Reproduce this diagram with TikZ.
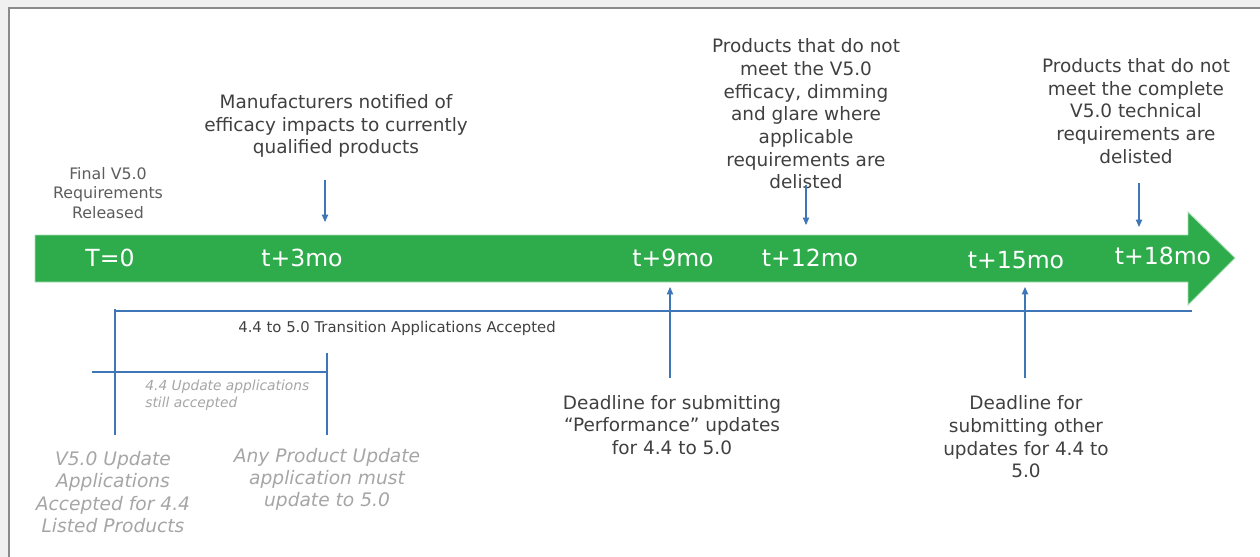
\documentclass[tikz,border=0pt]{standalone}
\usepackage{fontspec}
\setmainfont{DejaVu Sans}
\usetikzlibrary{arrows.meta,positioning}

\definecolor{tlgreen}{HTML}{2EAC4B}
\definecolor{tlblue}{HTML}{3F76B8}
\definecolor{txtdark}{HTML}{404040}
\definecolor{txtgray}{HTML}{A6A6A6}
\definecolor{framegray}{HTML}{8A8A8A}

\begin{document}
\begin{tikzpicture}[
  x=0.02cm, y=-0.02cm,
  >={Triangle[length=4.2pt,width=3.6pt]},
  caption/.style={align=center, inner sep=0pt, text=txtdark, font=\fontsize{10.5}{12.9}\selectfont},
  smallcap/.style={align=center, inner sep=0pt, text=txtdark!85, font=\fontsize{9}{11.2}\selectfont},
  notecap/.style={align=center, inner sep=0pt, text=txtgray, font=\fontsize{10.6}{12.6}\selectfont\itshape},
  smallnote/.style={align=left, inner sep=0pt, text=txtgray, font=\fontsize{7.85}{9.6}\selectfont\itshape},
  stamp/.style={inner sep=0pt, text=white, font=\fontsize{13.4}{15}\selectfont},
  blueline/.style={draw=tlblue, line width=0.6pt}
]

% Background and frame
\useasboundingbox (0,0) rectangle (1260,557);
\fill[black!6] (0,0) rectangle (1260,557);
\fill[white, draw=framegray, line width=1.1pt] (9,8) rectangle (1280,575);

% Timeline arrow
\fill[tlgreen, draw=tlgreen!40!white, line width=0.5pt]
  (35,235) -- (1188,235) -- (1188,212) -- (1235,258) -- (1188,305)
  -- (1188,282) -- (35,282) -- cycle;

% Nodes (milestones)
\node[stamp] (m0)  at (110,258)  {T=0};
\node[stamp] (m3)  at (302,258)  {t+3mo};
\node[stamp] (m9)  at (673,258)  {t+9mo};
\node[stamp] (m12) at (810,258)  {t+12mo};
\node[stamp] (m15) at (1016,260) {t+15mo};
\node[stamp] (m18) at (1163,256) {t+18mo};

% Captions above
\node[smallcap] (rel) at (108,193) {Final V5.0\\Requirements\\Released};
\node[caption] (notif) at (336,126) {Manufacturers notified of\\efficacy impacts to currently\\qualified products};
\node[caption] (del12) at (806,114) {Products that do not\\meet the V5.0\\efficacy, dimming\\and glare where\\applicable\\requirements are\\delisted};
\node[caption] (del18) at (1136,111) {Products that do not\\meet the complete\\V5.0 technical\\requirements are\\delisted};

% Captions below
\node[smallcap, text=txtdark, font=\fontsize{8.45}{10}\selectfont] (trans) at (397,328) {4.4 to 5.0 Transition Applications Accepted};
\node[smallnote, anchor=west] (still) at (145,395) {4.4 Update applications\\still accepted};
\node[notecap] (v5up) at (113,492) {V5.0 Update\\Applications\\Accepted for 4.4\\Listed Products};
\node[notecap] (anyup) at (327,479) {Any Product Update\\application must\\update to 5.0};
\node[caption] (dl9) at (672,425) {Deadline for submitting\\“Performance” updates\\for 4.4 to 5.0};
\node[caption] (dl15) at (1026,437) {Deadline for\\submitting other\\updates for 4.4 to\\5.0};

% Arrow end points
\coordinate (a3s) at (325,180);   \coordinate (a3e) at (325,222);
\coordinate (a12s) at (806,185);  \coordinate (a12e) at (806,225);
\coordinate (a18s) at (1139,183); \coordinate (a18e) at (1139,227);
\coordinate (a9s) at (670,378);   \coordinate (a9e) at (670,287);
\coordinate (a15s) at (1025,378); \coordinate (a15e) at (1025,287);

% Bracket lines
\coordinate (tl) at (115,309);  \coordinate (tb) at (115,435);
\coordinate (tr) at (1192,311); \coordinate (tm) at (115,311);
\coordinate (ul) at (92,372);   \coordinate (ur) at (327,372);
\coordinate (ut) at (327,353);  \coordinate (ub) at (327,435);

% Arrows (events)
\draw[blueline, ->] (a3s) -- (a3e);
\draw[blueline, ->] (a12s) -- (a12e);
\draw[blueline, ->] (a18s) -- (a18e);
\draw[blueline, ->] (a9s) -- (a9e);
\draw[blueline, ->] (a15s) -- (a15e);

% Periods
\draw[blueline] (tl) -- (tb);
\draw[blueline] (tm) -- (tr);
\draw[blueline] (ul) -- (ur);
\draw[blueline] (ut) -- (ub);

\end{tikzpicture}
\end{document}
